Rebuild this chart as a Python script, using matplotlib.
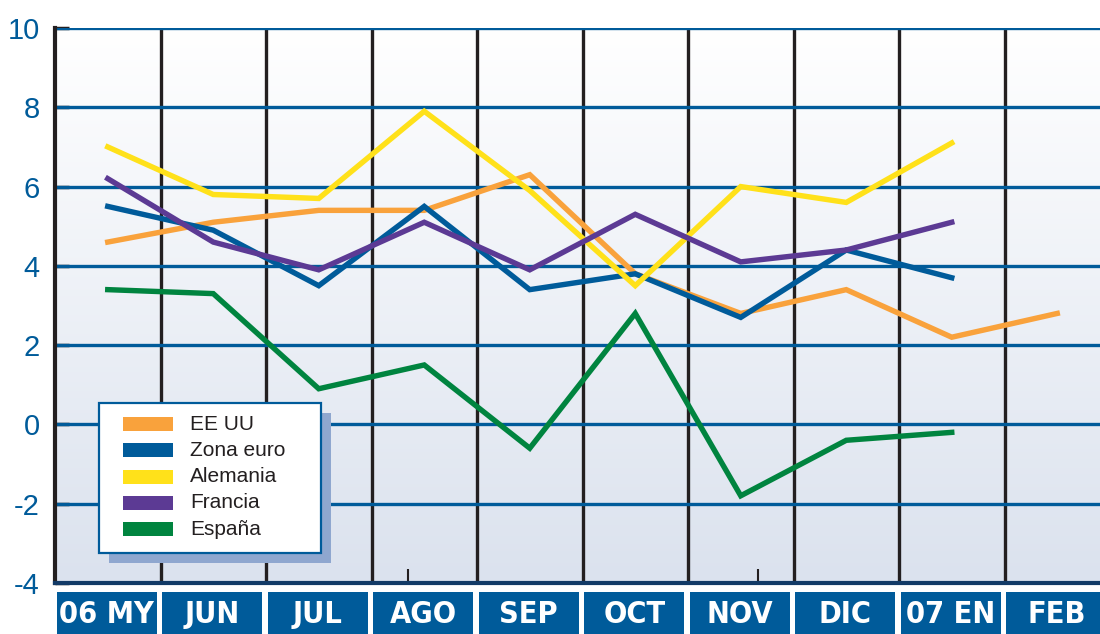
import numpy as np
import matplotlib
matplotlib.use('Agg')
import matplotlib.pyplot as plt
from matplotlib.patches import Rectangle

# months on the x axis
months = ['06 MY', 'JUN', 'JUL', 'AGO', 'SEP', 'OCT', 'NOV', 'DIC', '07 EN', 'FEB']

# series values
ee_uu     = [4.6, 5.1, 5.4, 5.4, 6.3, 3.8, 2.8, 3.4, 2.2, 2.8]
zona_euro = [5.5, 4.9, 3.5, 5.5, 3.4, 3.8, 2.7, 4.4, 3.7]
alemania  = [7.0, 5.8, 5.7, 7.9, 5.9, 3.5, 6.0, 5.6, 7.1]
francia   = [6.2, 4.6, 3.9, 5.1, 3.9, 5.3, 4.1, 4.4, 5.1]
espana    = [3.4, 3.3, 0.9, 1.5, -0.6, 2.8, -1.8, -0.4, -0.2]

names  = ['EE UU', 'Zona euro', 'Alemania', 'Francia', 'España']
series = [ee_uu, zona_euro, alemania, francia, espana]
colors = ['#f9a23c', '#005b9a', '#ffe11a', '#5c3a94', '#00843f']

yticks = [-4, -2, 0, 2, 4, 6, 8, 10]

BLUE = '#005b9a'
W, H = 1100, 634

plt.rcParams['font.family'] = ['Liberation Sans', 'DejaVu Sans']

fig = plt.figure(figsize=(W / 100, H / 100), dpi=100)

def fx(px):
    return px / W

def fy(py):
    return 1 - py / H

# main plot area
ax = fig.add_axes([fx(55), fy(583), fx(1055), (583 - 28) / H])
ax.set_xlim(0, 10)
ax.set_ylim(-4, 10)

# background gradient
grad = np.linspace(0, 1, 256).reshape(-1, 1)
top = np.array([1.0, 1.0, 1.0])
bot = np.array([219, 226, 238]) / 255.0
img = top[None, None, :] * (1 - grad[:, :, None]) + bot[None, None, :] * grad[:, :, None]
ax.imshow(img, extent=[0, 10, -4, 10], aspect='auto', origin='upper', zorder=0)

# vertical black separators and blue horizontal grid
ax.vlines(np.arange(1, 10), -4, 10, color='#231f20', lw=2.4, zorder=1)
for yv in yticks:
    ax.axhline(yv, color=BLUE, lw=2.4, zorder=2)

# data lines
for vals, col in zip(series, colors):
    xs = np.arange(len(vals)) + 0.5
    ax.plot(xs, vals, color=col, lw=3.9, solid_joinstyle='miter', zorder=3)

# axes styling
for s in ['top', 'right']:
    ax.spines[s].set_visible(False)
ax.spines['left'].set_color('#231f20')
ax.spines['left'].set_linewidth(3)
ax.spines['bottom'].set_color('#123a66')
ax.spines['bottom'].set_linewidth(3)
ax.set_yticks(yticks)
ax.set_yticklabels([str(v) for v in yticks], color=BLUE, fontsize=21)
ax.tick_params(axis='y', direction='in', length=10, width=2.5, color='#231f20', pad=11)
ax.set_xticks([3.35, 6.66])
ax.set_xticklabels(['', ''])
ax.tick_params(axis='x', direction='in', length=10, width=1.5, color='#231f20')

# month label boxes
lab = fig.add_axes([fx(55), 0, fx(1055), (634 - 592) / H])
lab.set_xlim(0, 10)
lab.set_ylim(0, 1)
lab.axis('off')
lab.bar(np.arange(len(months)) + 0.49, 1, width=0.95, bottom=0, color=BLUE, align='center')
for i, m in enumerate(months):
    lab.text(i + 0.49, 0.47, m, color='white', fontsize=22, fontweight='bold',
             family='DejaVu Sans', fontstretch='condensed',
             ha='center', va='center')

# legend with shadow
fig.patches.append(Rectangle((fx(109), fy(563)), fx(222), (563 - 413) / H,
                             transform=fig.transFigure, facecolor='#8fa7cf',
                             edgecolor='none', zorder=5))
fig.patches.append(Rectangle((fx(99), fy(553)), fx(222), (553 - 403) / H,
                             transform=fig.transFigure, facecolor='white',
                             edgecolor=BLUE, lw=1.6, zorder=6))
for i, (nm, col) in enumerate(zip(names, colors)):
    yc = 424 + 26.3 * i
    fig.patches.append(Rectangle((fx(123), fy(yc + 7)), fx(50), 14 / H,
                                 transform=fig.transFigure, facecolor=col,
                                 edgecolor='none', zorder=7))
    fig.text(fx(190), fy(yc), nm, color='#231f20', fontsize=15,
             ha='left', va='center', zorder=8)

fig.savefig('out.png', dpi=100)
